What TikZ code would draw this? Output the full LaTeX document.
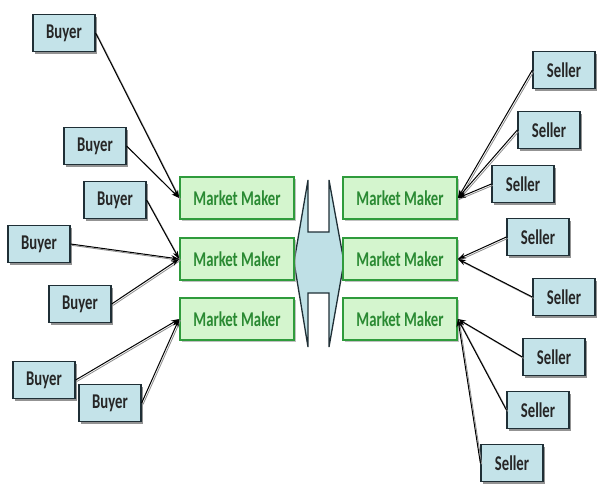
\documentclass[tikz,border=0pt]{standalone}
\usepackage{fontspec}
\setmainfont{Carlito}
\usetikzlibrary{arrows.meta,shadows}
\definecolor{boxblue}{HTML}{C4E3E9}
\definecolor{boxline}{HTML}{1F2F36}
\definecolor{mmfill}{HTML}{D4F5CE}
\definecolor{mmline}{HTML}{2F9B3C}
\definecolor{mmtext}{HTML}{2A8A33}
\definecolor{hubfill}{HTML}{BFE0E6}
\newcommand\sq[1]{\scalebox{0.7}[1]{#1}}
\newcommand\lnk[2]{%
  \draw[linkshade] ([shift={(1.4pt,-1.4pt)}]#1) -- ([shift={(1.4pt,-1.4pt)}]#2);
  \draw[link] (#1) -- (#2);}
\tikzset{
  party/.style={draw=boxline, line width=1.3pt, fill=boxblue,
    minimum width=62pt, minimum height=37pt, inner sep=0pt,
    text=black!85, font=\fontsize{21}{21}\selectfont\bfseries,
    drop shadow={shadow xshift=2pt, shadow yshift=-2pt, fill=black!60, opacity=0.7}},
  mm/.style={draw=mmline, line width=1.8pt, fill=mmfill,
    minimum width=114pt, minimum height=42pt, inner sep=0pt,
    text=mmtext, font=\fontsize{21}{21}\selectfont\bfseries,
    drop shadow={shadow xshift=2pt, shadow yshift=-2pt, fill=black!40, opacity=0.6}},
  hub/.style={draw=boxline, line width=1.3pt, fill=hubfill, line join=miter},
  link/.style={draw=black, line width=1pt, -{Stealth[length=8pt,width=5.5pt]}},
  linkshade/.style={draw=black!45, line width=0.8pt},
}
\begin{document}
\begin{tikzpicture}[x=1pt,y=-1pt]
\useasboundingbox[fill=white] (0,0) rectangle (600,498);

% central hub shape
\draw[hub] (294,262) -- (308,180) -- (308,232) -- (329,232) -- (329,180)
  -- (344,262) -- (329,347) -- (329,293) -- (308,293) -- (308,347) -- cycle;

% market makers
\node[mm] (ml1) at (237,198) {\sq{Market Maker}};
\node[mm] (ml2) at (237,259) {\sq{Market Maker}};
\node[mm] (ml3) at (237,319) {\sq{Market Maker}};
\node[mm] (mr1) at (400,198) {\sq{Market Maker}};
\node[mm] (mr2) at (400,259) {\sq{Market Maker}};
\node[mm] (mr3) at (400,319) {\sq{Market Maker}};

% buyers
\node[party] (b1) at (64,33) {\sq{Buyer}};
\node[party] (b2) at (95,146) {\sq{Buyer}};
\node[party] (b3) at (115,200) {\sq{Buyer}};
\node[party] (b4) at (39,244) {\sq{Buyer}};
\node[party] (b5) at (80,304) {\sq{Buyer}};
\node[party] (b6) at (44,380) {\sq{Buyer}};
\node[party] (b7) at (110,403) {\sq{Buyer}};

% sellers
\node[party] (s1) at (564,70) {\sq{Seller}};
\node[party] (s2) at (549,130) {\sq{Seller}};
\node[party] (s3) at (523,184) {\sq{Seller}};
\node[party] (s4) at (538,237) {\sq{Seller}};
\node[party] (s5) at (564,297) {\sq{Seller}};
\node[party] (s6) at (554,357) {\sq{Seller}};
\node[party] (s7) at (538,410) {\sq{Seller}};
\node[party] (s8) at (512,463) {\sq{Seller}};

% connectors
\lnk{b1.east}{ml1.west}
\lnk{b2.east}{ml1.west}
\lnk{b3.east}{ml2.west}
\lnk{b4.east}{ml2.west}
\lnk{b5.east}{ml2.west}
\lnk{b6.east}{ml3.west}
\lnk{b7.east}{ml3.west}
\lnk{s1.west}{mr1.east}
\lnk{s2.west}{mr1.east}
\lnk{s3.west}{mr1.east}
\lnk{s4.west}{mr2.east}
\lnk{s5.west}{mr2.east}
\lnk{s6.west}{mr3.east}
\lnk{s7.west}{mr3.east}
\lnk{s8.west}{mr3.east}
\end{tikzpicture}
\end{document}
